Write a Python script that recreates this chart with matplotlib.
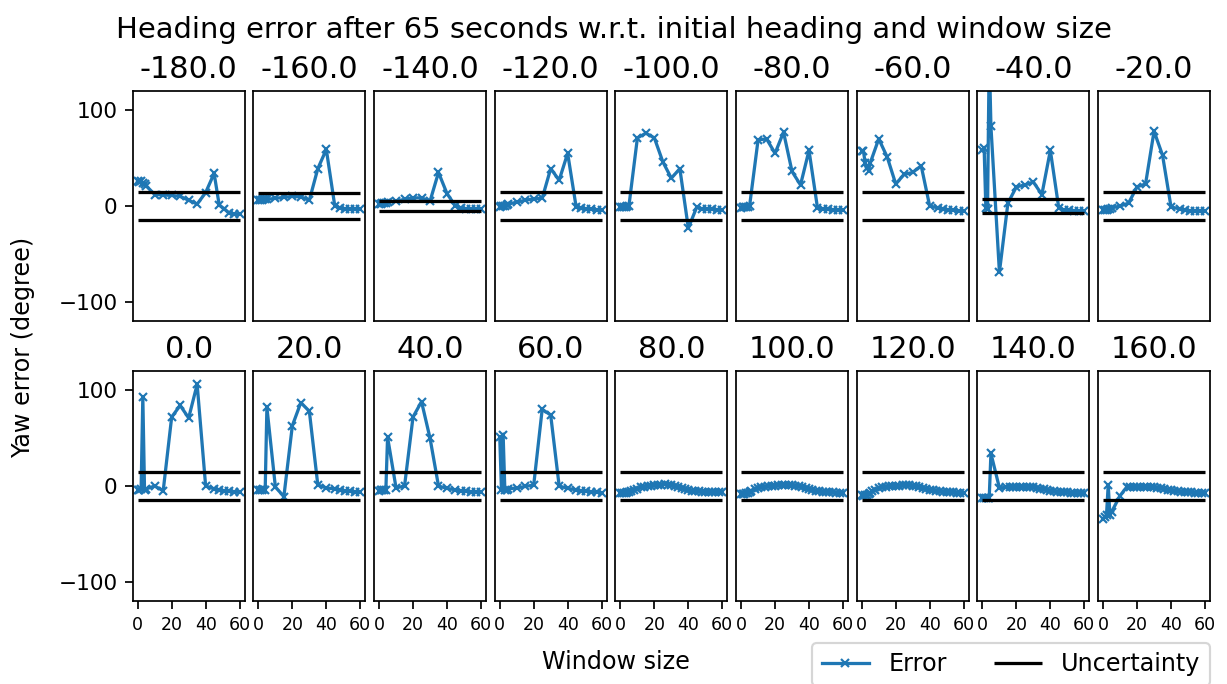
import matplotlib
matplotlib.use("Agg")
import matplotlib.pyplot as plt

# Initial headings (panel titles)
HEADINGS = [-180.0, -160.0, -140.0, -120.0, -100.0, -80.0, -60.0, -40.0, -20.0,
            0.0, 20.0, 40.0, 60.0, 80.0, 100.0, 120.0, 140.0, 160.0]

# Window sizes (x values)
WIN_A = [0, 1, 2, 3, 4, 5, 10, 15, 20, 25, 30, 35, 40, 45, 48, 51, 54, 57, 60]
WIN_B = [0, 1, 2, 3, 4, 5, 6, 8, 10, 12, 14, 16, 18, 20, 22, 24, 26, 28, 30, 32,
         34, 36, 38, 40, 42, 44, 46, 48, 50, 52, 54, 56, 58, 60]
WIN_C = [0, 1, 2, 3, 4, 5, 10, 14, 16, 18, 20, 22, 24, 26, 28, 30, 32, 34, 36, 38,
         40, 42, 44, 46, 48, 50, 52, 54, 56, 58, 60]

# Heading errors (degree) per initial heading
ERR_M180 = [26, 25, 26, 24, 23, 21, 12, 11.5, 11, 10, 6, 2, 14, 34, 1, -3, -7.5, -8.5, -8.5]
ERR_M160 = [6, 6, 6.5, 7, 7, 7, 8, 9, 10, 9.5, 6, 39, 59, 0, -2, -3, -3, -3, -3.5]
ERR_M140 = [2, 2.5, 3, 3, 3.5, 4, 5, 7, 8.5, 8.5, 5, 35, 13, 0, -2, -3, -3, -3.5, -3.5]
ERR_M120 = [-1, -0.5, 0, 0, 1, 2, 4, 6, 7.5, 8, 39, 27, 55, -1, -2.5, -3, -3.5, -4, -4]
ERR_M100 = [-1, -1, -1, -1, -0.5, 0, 71, 76, 71, 46, 29, 39, -23, -1, -3, -3.5, -3.5, -4, -4]
ERR_M80 = [-2, -1.5, -1.5, -1, -1, 0, 69, 70, 55, 77, 36, 22, 58, -2, -3, -3.5, -4, -4, -4.5]
ERR_M60 = [57, 57, 45, 40, 37, 45, 70, 51, 23, 33, 35, 42, 0, -2, -3, -4, -4.5, -5, -5]
ERR_M40 = [58, 60, -2, -3, 160, 83, -69, 3, 20, 22, 25, 12, 58, -2.5, -4, -4.5, -5, -5, -5]
ERR_M20 = [-4, -4, -4, -3.5, -3, -2, 0, 3, 20, 23, 78, 53, -1, -3, -4, -5, -5, -5.5, -5.5]
ERR_P0 = [-4, -4, -3, 93, -4, -3, 0, -5, 72, 84, 71, 106, 0, -3, -4, -5, -5.5, -6, -6]
ERR_P20 = [-4, -4, -4, -3.5, -4, 82, -1, -11, 63, 87, 78, 1, -2, -3, -4, -5, -5.5, -6, -6]
ERR_P40 = [-5, -4.5, -4.5, -4, -4, 51, -2, 0, 72, 88, 50, 0, -2.5, -4, -5, -5.5, -6, -6.5, -6.5]
ERR_P60 = [51, -4, 53, -4, -4, -3, -2, -0.5, 1, 80, 74, 0, -2.5, -4, -5, -5.5, -6, -6.5, -7]
ERR_P80 = [-7, -7, -7.5, -7, -6.5, -6, -5, -4, -3, -1.5, -1, 0, 0.5, 1, 1.5, 1.5, 1.8,
           1.5, 1, 0, -1, -2, -3, -4, -5, -5.5, -5.5, -6, -6, -6, -6.5, -6.5, -6.5, -6.5]
ERR_P100 = [-8, -8.5, -8, -7.5, -7, -6, -5, -3, -2, -1.5, -1, -0.5, 0, 0.5, 1, 1.5, 1.5,
            1.5, 1, 0.5, -0.5, -1.5, -2.5, -3.5, -4.5, -5, -5.5, -6, -6, -6.5, -6.5, -7, -7, -7]
ERR_P120 = [-9, -10, -9.5, -9, -8.5, -7, -5, -4, -2.5, -1.5, -1, -0.5, 0, 0, 0.5, 1, 1,
            1, 0.5, 0, -1, -2, -3, -4, -4.5, -5, -5.5, -6, -6, -6.5, -6.5, -7, -7, -7]
ERR_P140 = [-12, -13, -13, -12.5, -12, 34, -2, -1.5, -1, -1, -1, -1, -1, -1, -1, -1.5,
            -2, -3, -3.5, -4, -5, -5.5, -6, -6, -6.5, -6.5, -7, -7, -7, -7, -7.5]
ERR_P160 = [-34, -32, -30, 1, -30, -27, -10, -1, -1, -1, -1, -1, -1, -1.5, -1.5, -1.5,
            -2, -2.5, -3, -4, -4.5, -5, -5.5, -6, -6, -6.5, -6.5, -7, -7, -7, -7]

ERRORS = [ERR_M180, ERR_M160, ERR_M140, ERR_M120, ERR_M100, ERR_M80, ERR_M60, ERR_M40,
          ERR_M20, ERR_P0, ERR_P20, ERR_P40, ERR_P60, ERR_P80, ERR_P100, ERR_P120,
          ERR_P140, ERR_P160]
WINDOWS = [WIN_A] * 13 + [WIN_B, WIN_B, WIN_B, WIN_C, WIN_C]

# Uncertainty bound (degree) per initial heading
UNCERTAINTY = [14.5, 13.2, 5.3, 14.5, 14.5, 14.5, 14.5, 7.2, 14.5,
               14.5, 14.5, 14.5, 14.5, 14.5, 14.5, 14.5, 14.5, 14.5]
UNC_X = [0, 60]

DPI = 156
fig, axes = plt.subplots(2, 9, figsize=(1227 / DPI, 684 / DPI), dpi=DPI,
                         sharex=True, sharey=True)
fig.subplots_adjust(left=0.1081, right=0.9862, top=0.867, bottom=0.1213,
                    wspace=0.077, hspace=0.217)

for i, ax in enumerate(axes.flat):
    x = WINDOWS[i]
    err_line, = ax.plot(x, ERRORS[i], marker='x', markersize=3.3, color='#1f77b4',
                        linewidth=1.5, label='Error')
    u = UNCERTAINTY[i]
    unc_line, = ax.plot(UNC_X, [u, u], color='black', linewidth=1.5,
                        solid_capstyle='butt', label='Uncertainty')
    ax.plot(UNC_X, [-u, -u], color='black', linewidth=1.5, solid_capstyle='butt')
    ax.set_title(f"{HEADINGS[i]}", fontsize=14)
    ax.set_ylim(-120, 120)
    ax.set_yticks([-100, 0, 100])
    ax.set_xticks([0, 20, 40, 60])
    row, col = divmod(i, 9)
    ax.tick_params(axis='x', labelsize=8, bottom=(row == 1), labelbottom=(row == 1))
    ax.tick_params(axis='y', labelsize=10, left=(col == 0), labelleft=(col == 0))

fig.suptitle("Heading error after 65 seconds w.r.t. initial heading and window size",
             fontsize=13.4, y=0.977)
fig.text(0.502, 0.032, "Window size", ha='center', va='center', fontsize=11)
fig.text(0.019, 0.4925, "Yaw error (degree)", ha='center', va='center',
         rotation=90, fontsize=11)
fig.legend([err_line, unc_line], ['Error', 'Uncertainty'], loc='upper right',
           bbox_to_anchor=(0.9862, 0.06), borderaxespad=0, ncol=2, fontsize=11)

fig.savefig("out.png", dpi=DPI)
